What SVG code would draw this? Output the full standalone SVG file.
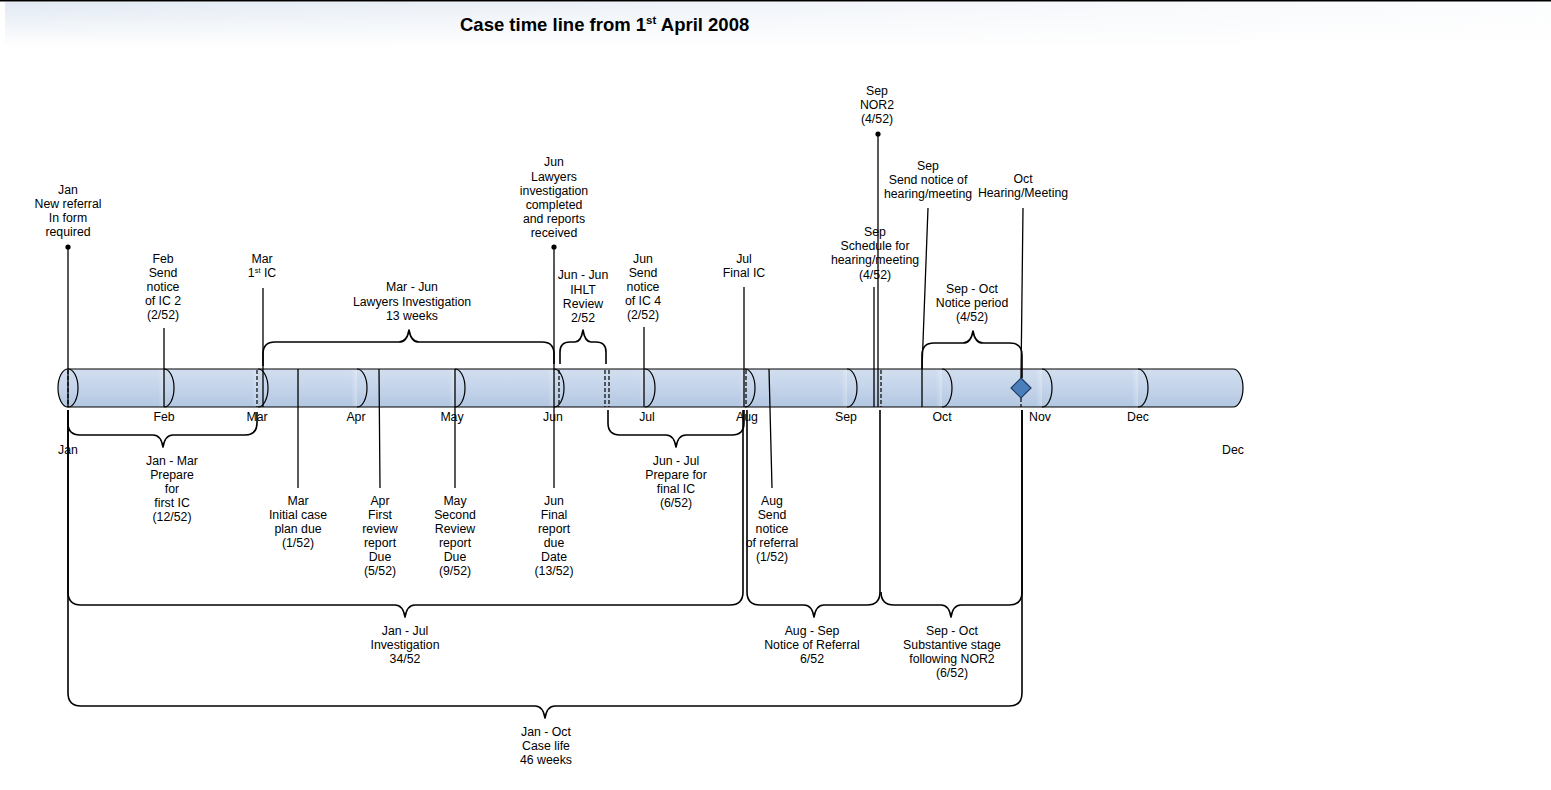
<svg xmlns="http://www.w3.org/2000/svg" width="1551" height="790" viewBox="0 0 1551 790">
<defs>
<linearGradient id="bandV" x1="0" y1="0" x2="0" y2="1"><stop offset="0" stop-color="#e2e9f3"/><stop offset="1" stop-color="#ffffff"/></linearGradient>
<linearGradient id="bandH" x1="0" y1="0" x2="1" y2="0"><stop offset="0" stop-color="#ffffff" stop-opacity="0"/><stop offset="0.6" stop-color="#ffffff" stop-opacity="0.6"/><stop offset="1" stop-color="#ffffff" stop-opacity="0.9"/></linearGradient>
<linearGradient id="tube" x1="0" y1="0" x2="0" y2="1"><stop offset="0" stop-color="#d2deef"/><stop offset="0.5" stop-color="#c4d4ea"/><stop offset="1" stop-color="#b3c7e1"/></linearGradient>
<linearGradient id="hlg" x1="0" y1="0" x2="1" y2="0"><stop offset="0" stop-color="#ffffff" stop-opacity="0"/><stop offset="1" stop-color="#ffffff" stop-opacity="0.3"/></linearGradient>
<style>
.t{font-family:"Liberation Sans",Arial,sans-serif;font-size:12.3px;fill:#000;text-anchor:middle}
.ttl{font-family:"Liberation Sans",Arial,sans-serif;font-size:18.5px;font-weight:bold;fill:#000}
.ln{stroke:#000;stroke-width:1.3;fill:none}
.br{stroke:#000;stroke-width:1.6;fill:none;stroke-linejoin:round}
.ds{stroke:#000;stroke-width:1.2;stroke-dasharray:4 2;fill:none}
.arc{stroke:#000;stroke-width:1.2;fill:none}
.hl{fill:url(#hlg)}
</style>
</defs>
<rect width="1551" height="790" fill="#ffffff"/>
<g id="title">
<rect x="5" y="2" width="1546" height="45" fill="url(#bandV)"/>
<rect x="5" y="2" width="1546" height="45" fill="url(#bandH)"/>
<line x1="0" y1="0.8" x2="1551" y2="0.8" stroke="#000" stroke-width="1.6"/>
<text class="ttl" x="460" y="31">Case time line from 1<tspan font-size="11.5" dy="-7">st</tspan><tspan dy="7"> April 2008</tspan></text>
</g>
<g id="timeline">
<path d="M68,369 L1233,369 A10,19 0 0 1 1233,407 L68,407 Z" fill="url(#tube)" stroke="#000" stroke-width="1.2"/>
<g>
<rect class="hl" x="158" y="370" width="6" height="36"/>
<rect class="hl" x="252" y="370" width="6" height="36"/>
<rect class="hl" x="351" y="370" width="6" height="36"/>
<rect class="hl" x="449" y="370" width="6" height="36"/>
<rect class="hl" x="548" y="370" width="6" height="36"/>
<rect class="hl" x="639" y="370" width="6" height="36"/>
<rect class="hl" x="739" y="370" width="6" height="36"/>
<rect class="hl" x="841" y="370" width="6" height="36"/>
<rect class="hl" x="936" y="370" width="6" height="36"/>
<rect class="hl" x="1036" y="370" width="6" height="36"/>
<rect class="hl" x="1132" y="370" width="6" height="36"/>
</g>
<path class="arc" d="M164,369 A10,19 0 0 1 164,407 M258,369 A10,19 0 0 1 258,407 M357,369 A10,19 0 0 1 357,407 M455,369 A10,19 0 0 1 455,407 M554,369 A10,19 0 0 1 554,407 M645,369 A10,19 0 0 1 645,407 M745,369 A10,19 0 0 1 745,407 M847,369 A10,19 0 0 1 847,407 M942,369 A10,19 0 0 1 942,407 M1042,369 A10,19 0 0 1 1042,407 M1138,369 A10,19 0 0 1 1138,407"/>
<ellipse cx="68" cy="388" rx="10" ry="19" fill="url(#tube)" stroke="#000" stroke-width="1.2"/>
<path class="ds" d="M68,370 V407 M257,370 V407 M559,370 V407 M605,370 V407 M609,370 V407 M746,370 V407 M881,370 V407 M1021,398 V407"/>
<g class="t">
<text x="164" y="420.5">Feb</text>
<text x="257" y="420.5">Mar</text>
<text x="356" y="420.5">Apr</text>
<text x="452" y="420.5">May</text>
<text x="553" y="420.5">Jun</text>
<text x="647" y="420.5">Jul</text>
<text x="747" y="420.5">Aug</text>
<text x="846" y="420.5">Sep</text>
<text x="942" y="420.5">Oct</text>
<text x="1040" y="420.5">Nov</text>
<text x="1138" y="420.5">Dec</text>
<text x="68" y="453.5">Jan</text>
<text x="1233" y="453.5">Dec</text>
</g>
</g>
<g id="connectors">
<circle cx="68" cy="247" r="2.6"/>
<circle cx="554" cy="247" r="2.6"/>
<circle cx="878" cy="134" r="2.6"/>
<path class="ln" d="M68,247 V407 M164,328 V407 M263,288 V407 M298,369 V488 M379,369 L380,488 M455,369 V488 M554,247 V488 M644,327 V407 M744,287 V407 M769,369 L772,488 M878,134 V407 M874,287 V407 M928,208 L922,369 V407 M1023,208 L1021,378"/>
</g>
<g id="diamond-oct">
<polygon points="1021,378 1031,388 1021,398 1011,388" fill="#4a7ebb" stroke="#1f3b63" stroke-width="1.2"/>
</g>
<g id="brace-mar-jun">
<path class="br" d="M263,366 L263,354 Q263,342 275,342 L399,342 Q407,342 409,330 Q411,342 419,342 L542,342 Q554,342 554,354 L554,364"/>
<text class="t" x="412" y="291.3">Mar - Jun<tspan x="412" dy="14.2">Lawyers Investigation</tspan><tspan x="412" dy="14.2">13 weeks</tspan></text>
</g>
<g id="brace-ihlt">
<path class="br" d="M560,364 L560,352 Q560,342 570,342 L575,342 Q581,342 583,330 Q585,342 591,342 L596,342 Q606,342 606,352 L606,364"/>
<text class="t" x="583" y="279.3">Jun - Jun<tspan x="583" dy="14.2">IHLT</tspan><tspan x="583" dy="14.2">Review</tspan><tspan x="583" dy="14.2">2/52</tspan></text>
</g>
<g id="brace-notice">
<path class="br" d="M922,369 L922,355 Q922,343 934,343 L963,343 Q971,343 973,331 Q975,343 983,343 L1010,343 Q1022,343 1022,355 L1022,378"/>
<text class="t" x="972" y="292.5">Sep - Oct<tspan x="972" dy="14.2">Notice period</tspan><tspan x="972" dy="14.2">(4/52)</tspan></text>
</g>
<g id="brace-jan-mar">
<path class="br" d="M68,410 L68,423 Q68,435 80,435 L153,435 Q161,435 163,447 Q165,435 173,435 L245,435 Q257,435 257,423 L257,412"/>
<text class="t" x="172" y="465.3">Jan - Mar<tspan x="172" dy="14">Prepare</tspan><tspan x="172" dy="14">for</tspan><tspan x="172" dy="14">first IC</tspan><tspan x="172" dy="14">(12/52)</tspan></text>
</g>
<g id="brace-jun-jul">
<path class="br" d="M608,410 L608,423 Q608,435 620,435 L666,435 Q674,435 676,447 Q678,435 686,435 L732,435 Q744,435 744,423 L744,410"/>
<text class="t" x="676" y="465.3">Jun - Jul<tspan x="676" dy="14">Prepare for</tspan><tspan x="676" dy="14">final IC</tspan><tspan x="676" dy="14">(6/52)</tspan></text>
</g>
<g id="brace-jan-jul">
<path class="br" d="M68,410 L68,592 Q68,605 81,605 L395,605 Q403,605 405,617 Q407,605 415,605 L730,605 Q743,605 743,592 L743,410"/>
<text class="t" x="405" y="634.5">Jan - Jul<tspan x="405" dy="14.2">Investigation</tspan><tspan x="405" dy="14.2">34/52</tspan></text>
</g>
<g id="brace-aug-sep">
<path class="br" d="M747,410 L747,592 Q747,605 760,605 L804,605 Q812,605 814,617 Q816,605 824,605 L867,605 Q880,605 880,592 L880,410"/>
<text class="t" x="812" y="634.5">Aug - Sep<tspan x="812" dy="14.2">Notice of Referral</tspan><tspan x="812" dy="14.2">6/52</tspan></text>
</g>
<g id="brace-sep-oct">
<path class="br" d="M881,592 Q881,605 894,605 L941,605 Q949,605 951,617 Q953,605 961,605 L1009,605 Q1022,605 1022,592 L1022,410"/>
<text class="t" x="952" y="634.5">Sep - Oct<tspan x="952" dy="14.2">Substantive stage</tspan><tspan x="952" dy="14.2">following NOR2</tspan><tspan x="952" dy="14.2">(6/52)</tspan></text>
</g>
<g id="brace-jan-oct">
<path class="br" d="M68,410 L68,693 Q68,706 81,706 L535,706 Q543,706 545,718 Q547,706 555,706 L1009,706 Q1022,706 1022,693 L1022,410"/>
<text class="t" x="546" y="735.5">Jan - Oct<tspan x="546" dy="14.2">Case life</tspan><tspan x="546" dy="14.2">46 weeks</tspan></text>
</g>
<g id="ev-jan-referral"><text class="t" x="68" y="193.5">Jan<tspan x="68" dy="14.2">New referral</tspan><tspan x="68" dy="14.2">In form</tspan><tspan x="68" dy="14.2">required</tspan></text></g>
<g id="ev-feb-notice"><text class="t" x="163" y="262.5">Feb<tspan x="163" dy="14.2">Send</tspan><tspan x="163" dy="14.2">notice</tspan><tspan x="163" dy="14.2">of IC 2</tspan><tspan x="163" dy="14.2">(2/52)</tspan></text></g>
<g id="ev-mar-ic"><text class="t" x="262" y="262.5">Mar<tspan x="262" dy="14.2">1<tspan font-size="7.5" dy="-4">st</tspan><tspan dy="4"> IC</tspan></tspan></text></g>
<g id="ev-jun-lawyers"><text class="t" x="554" y="166.3">Jun<tspan x="554" dy="14.2">Lawyers</tspan><tspan x="554" dy="14.2">investigation</tspan><tspan x="554" dy="14.2">completed</tspan><tspan x="554" dy="14.2">and reports</tspan><tspan x="554" dy="14.2">received</tspan></text></g>
<g id="ev-jun-notice"><text class="t" x="643" y="262.5">Jun<tspan x="643" dy="14.2">Send</tspan><tspan x="643" dy="14.2">notice</tspan><tspan x="643" dy="14.2">of IC 4</tspan><tspan x="643" dy="14.2">(2/52)</tspan></text></g>
<g id="ev-jul-final"><text class="t" x="744" y="262.5">Jul<tspan x="744" dy="14.2">Final IC</tspan></text></g>
<g id="ev-sep-nor2"><text class="t" x="877" y="95">Sep<tspan x="877" dy="14.2">NOR2</tspan><tspan x="877" dy="14.2">(4/52)</tspan></text></g>
<g id="ev-sep-schedule"><text class="t" x="875" y="236">Sep<tspan x="875" dy="14.2">Schedule for</tspan><tspan x="875" dy="14.2">hearing/meeting</tspan><tspan x="875" dy="14.2">(4/52)</tspan></text></g>
<g id="ev-sep-send"><text class="t" x="928" y="170">Sep<tspan x="928" dy="14.2">Send notice of</tspan><tspan x="928" dy="14.2">hearing/meeting</tspan></text></g>
<g id="ev-oct-hearing"><text class="t" x="1023" y="182.5">Oct<tspan x="1023" dy="14.2">Hearing/Meeting</tspan></text></g>
<g id="ev-mar-plan"><text class="t" x="298" y="504.5">Mar<tspan x="298" dy="14">Initial case</tspan><tspan x="298" dy="14">plan due</tspan><tspan x="298" dy="14">(1/52)</tspan></text></g>
<g id="ev-apr-review"><text class="t" x="380" y="504.5">Apr<tspan x="380" dy="14">First</tspan><tspan x="380" dy="14">review</tspan><tspan x="380" dy="14">report</tspan><tspan x="380" dy="14">Due</tspan><tspan x="380" dy="14">(5/52)</tspan></text></g>
<g id="ev-may-review"><text class="t" x="455" y="504.5">May<tspan x="455" dy="14">Second</tspan><tspan x="455" dy="14">Review</tspan><tspan x="455" dy="14">report</tspan><tspan x="455" dy="14">Due</tspan><tspan x="455" dy="14">(9/52)</tspan></text></g>
<g id="ev-jun-final"><text class="t" x="554" y="504.5">Jun<tspan x="554" dy="14">Final</tspan><tspan x="554" dy="14">report</tspan><tspan x="554" dy="14">due</tspan><tspan x="554" dy="14">Date</tspan><tspan x="554" dy="14">(13/52)</tspan></text></g>
<g id="ev-aug-notice"><text class="t" x="772" y="504.5">Aug<tspan x="772" dy="14">Send</tspan><tspan x="772" dy="14">notice</tspan><tspan x="772" dy="14">of referral</tspan><tspan x="772" dy="14">(1/52)</tspan></text></g>
</svg>
